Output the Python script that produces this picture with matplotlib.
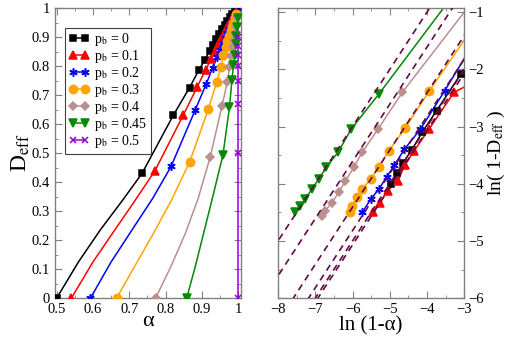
import numpy as np
import matplotlib
matplotlib.use("Agg")
import matplotlib.pyplot as plt
from matplotlib.lines import Line2D
from matplotlib.ticker import MultipleLocator

# ______________________________________________________DATA__________________________________________________________ #
labels = ['0', '0.1', '0.2', '0.3', '0.4', '0.45', '0.5']
colors = ['#000000', '#ff0000', '#0000ff', '#ffa500', '#bc8f8f', '#008b00', '#9400d3']
markers = ['s', '^', (6, 2, 0), 'o', 'D', 'v', 'x']
msizes = [5, 5.5, 6, 6, 4.2, 5.5, 4.5]

# left panel: smooth curves D_eff(alpha)
lineA = [
    [0.5, 0.56, 0.62, 0.68, 0.735, 0.821, 0.866, 0.892, 0.908, 0.921, 0.931, 0.940, 0.948, 0.956, 0.963, 0.970, 0.977, 0.984, 0.990, 0.996, 1.0],
    [0.5405, 0.60, 0.66, 0.715, 0.771, 0.849, 0.887, 0.910, 0.925, 0.936, 0.945, 0.953, 0.960, 0.966, 0.972, 0.978, 0.984, 0.990, 0.995, 1.0],
    [0.593, 0.65, 0.71, 0.765, 0.815, 0.881, 0.912, 0.930, 0.941, 0.950, 0.957, 0.963, 0.969, 0.974, 0.979, 0.984, 0.988, 0.992, 0.996, 1.0],
    [0.665, 0.715, 0.765, 0.815, 0.866, 0.918, 0.941, 0.952, 0.959, 0.965, 0.970, 0.975, 0.979, 0.983, 0.987, 0.991, 0.995, 1.0],
    [0.7725, 0.815, 0.855, 0.89, 0.923, 0.955, 0.970, 0.976, 0.981, 0.985, 0.988, 0.991, 0.994, 0.997, 1.0],
    [0.858, 0.882, 0.905, 0.93, 0.958, 0.976, 0.9826, 0.987, 0.990, 0.993, 0.995, 0.997, 0.999, 1.0],
    [0.9995, 0.9995, 0.9995, 0.9995, 0.9995, 0.9995, 0.9995, 0.9995, 1.0],
]
lineD = [
    [0.0, 0.125, 0.235, 0.335, 0.43, 0.63, 0.726, 0.787, 0.822, 0.851, 0.874, 0.895, 0.912, 0.928, 0.942, 0.955, 0.968, 0.978, 0.987, 0.995, 1.0],
    [0.0, 0.125, 0.235, 0.335, 0.44, 0.632, 0.728, 0.787, 0.823, 0.85, 0.874, 0.893, 0.91, 0.926, 0.94, 0.953, 0.966, 0.978, 0.99, 1.0],
    [0.0, 0.125, 0.24, 0.345, 0.454, 0.647, 0.739, 0.795, 0.83, 0.857, 0.879, 0.897, 0.913, 0.928, 0.942, 0.955, 0.968, 0.98, 0.99, 1.0],
    [0.0, 0.11, 0.22, 0.335, 0.469, 0.653, 0.745, 0.797, 0.837, 0.865, 0.887, 0.905, 0.92, 0.935, 0.95, 0.965, 0.98, 1.0],
    [0.0, 0.11, 0.225, 0.345, 0.487, 0.661, 0.745, 0.797, 0.834, 0.865, 0.89, 0.915, 0.94, 0.97, 1.0],
    [0.0, 0.11, 0.225, 0.35, 0.494, 0.659, 0.751, 0.803, 0.84, 0.875, 0.905, 0.935, 0.965, 1.0],
    [0.0, 0.5, 0.67, 0.75, 0.80, 0.84, 0.87, 0.90, 1.0],
]
# which points of each curve carry a symbol
markIdx = [
    [0] + list(range(4, 20)),
    [0] + list(range(4, 19)),
    [0] + list(range(4, 19)),
    [0] + list(range(4, 17)),
    [0] + list(range(4, 14)),
    [0] + list(range(4, 13)),
    list(range(0, 8)),
]

# right panel: ln(1-D_eff) vs ln(1-alpha), p_b = 0 ... 0.45
rX = [
    [-4.97, -4.80, -4.65, -4.41, -4.13, -3.74, -3.09],
    [-5.45, -5.27, -5.05, -4.78, -4.60, -4.34, -3.94, -3.27],
    [-5.74, -5.51, -5.29, -5.08, -4.88, -4.61, -4.18, -3.53],
    [-6.08, -6.01, -5.87, -5.74, -5.51, -5.29, -5.02, -4.59, -3.94],
    [-6.82, -6.73, -6.55, -6.37, -6.19, -5.96, -5.74, -5.31, -4.66],
    [-7.54, -7.41, -7.27, -7.09, -6.91, -6.70, -6.39, -6.03, -5.29],
]
rY = [
    [-4.00, -3.82, -3.64, -3.41, -3.10, -2.72, -2.08],
    [-4.50, -4.33, -4.12, -3.95, -3.68, -3.42, -3.04, -2.40],
    [-4.50, -4.27, -4.09, -3.88, -3.68, -3.40, -3.05, -2.38],
    [-4.50, -4.39, -4.24, -4.09, -3.92, -3.70, -3.42, -3.03, -2.38],
    [-4.56, -4.47, -4.33, -4.15, -3.95, -3.71, -3.45, -3.04, -2.40],
    [-4.50, -4.39, -4.27, -4.09, -3.92, -3.71, -3.45, -3.04, -2.43],
]
# where each solid curve runs out (last point, no symbol)
rEndX = [-3.0, -3.0, -3.0, -3.0, -3.0, -3.57]
rEndY = [-2.0, -2.31, -1.81, -1.49, -1.0, -0.94]

# dashed fits: ln(1-D) = slope * ln(1-alpha) + icpt
fitSlope = [1.0, 1.0, 1.0, 1.0, 1.0, 1.0]
fitIcpt = [1.0, 0.93, 1.18, 1.59, 2.39, 3.0]
fitColor = '#670748'

# ___________________________________________________FIGURE___________________________________________________________ #
plt.rcParams['font.family'] = ['Liberation Serif', 'DejaVu Serif']
plt.rcParams['mathtext.fontset'] = 'stix'
frameCol = '#808080'

fig = plt.figure(figsize=(5.13, 3.38), dpi=100)
ax1 = fig.add_axes([0.107, 0.118, 0.363, 0.858])
ax2 = fig.add_axes([0.542, 0.118, 0.363, 0.858])

handles = []
for i in range(len(labels)):
    a = np.array(lineA[i])
    d = np.array(lineD[i])
    ax1.plot(a, d, '-', color=colors[i], lw=1.1, zorder=2)
    mi = markIdx[i]
    ax1.plot(a[mi], d[mi], linestyle='none', marker=markers[i], ms=msizes[i],
             color=colors[i], mec=colors[i], mew=1.1, zorder=3)
    handles.append(Line2D([], [], color=colors[i], lw=1.1, marker=markers[i], ms=msizes[i],
                          mec=colors[i], mew=1.1))

leg = ax1.legend(handles, ['p$_\\mathrm{b}$ = ' + s for s in labels], loc='upper left',
                 bbox_to_anchor=(0.055, 0.932), borderaxespad=0, numpoints=2, fontsize=10,
                 handlelength=1.5, handletextpad=0.35, labelspacing=0.0, borderpad=0.25,
                 fancybox=False, framealpha=1, edgecolor='#404040')
leg.get_frame().set_linewidth(0.8)

ax1.set_xlim(0.495, 1.008)
ax1.set_ylim(0, 1)
ax1.xaxis.set_minor_locator(MultipleLocator(0.05))
ax1.yaxis.set_minor_locator(MultipleLocator(0.05))
xt = [0.5, 0.6, 0.7, 0.8, 0.9, 1.0]
ax1.set_xticks(xt)
ax1.set_xticklabels(['0.5', '0.6', '0.7', '0.8', '0.9', '1'])
yt = [0, 0.1, 0.2, 0.3, 0.4, 0.5, 0.6, 0.7, 0.8, 0.9, 1.0]
ax1.set_yticks(yt)
ax1.set_yticklabels(['0', '0.1', '0.2', '0.3', '0.4', '0.5', '0.6', '0.7', '0.8', '0.9', '1'])
ax1.set_xlabel('α', fontsize=16, labelpad=-3)
ax1.set_ylabel('D$_\\mathrm{eff}$', fontsize=17, labelpad=0)

for i in range(len(rX)):
    x = np.array(rX[i] + [rEndX[i]])
    y = np.array(rY[i] + [rEndY[i]])
    ax2.plot(x, y, '-', color=colors[i], lw=1.1, zorder=2)
    ax2.plot(rX[i], rY[i], linestyle='none', marker=markers[i], ms=msizes[i],
             color=colors[i], mec=colors[i], mew=1.1, zorder=3)
    xf = np.array([-9.0, -2.0])
    ax2.plot(xf, fitSlope[i] * xf + fitIcpt[i], '--', color=fitColor, lw=1.2,
             dashes=(4, 3), zorder=4)

ax2.set_xlim(-8, -3)
ax2.set_ylim(-6, -0.93)
ax2.xaxis.set_major_locator(MultipleLocator(1))
ax2.xaxis.set_minor_locator(MultipleLocator(0.5))
ax2.yaxis.set_major_locator(MultipleLocator(1))
ax2.yaxis.set_minor_locator(MultipleLocator(0.5))
ax2.yaxis.tick_right()
ax2.yaxis.set_label_position('right')
ax2.set_xlabel('ln (1-α)', fontsize=15, labelpad=0)
ax2.set_ylabel('ln( 1-D$_\\mathrm{eff}$ )', fontsize=14, labelpad=1)

for ax in (ax1, ax2):
    ax.tick_params(which='both', direction='in', top=True, right=True, left=True, bottom=True,
                   color=frameCol, labelsize=10.5)
    ax.tick_params(which='major', length=5)
    ax.tick_params(which='minor', length=2.5)
    for sp in ax.spines.values():
        sp.set_color(frameCol)
        sp.set_linewidth(1.0)
ax2.tick_params(axis='y', which='both', labelleft=False, labelright=True, pad=3)

fig.savefig('out.png', dpi=100)
